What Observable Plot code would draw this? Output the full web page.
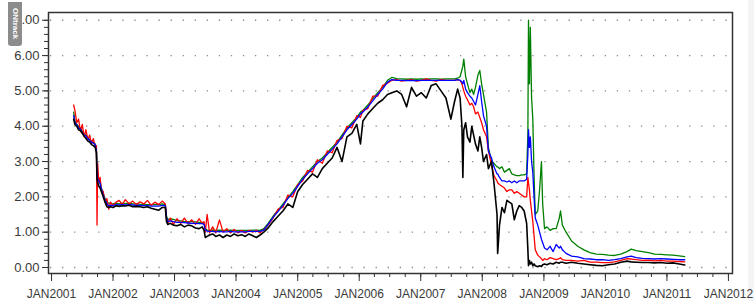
<!DOCTYPE html>
<html>
<head>
<meta charset="utf-8">
<script src="https://cdn.jsdelivr.net/npm/d3@7"></script>
<script src="https://cdn.jsdelivr.net/npm/@observablehq/plot@0.6"></script>
<style>
  html, body { margin: 0; padding: 0; background: #fff; }
  #wrap { position: relative; width: 754px; height: 301px; overflow: hidden; }
  #tab { position: absolute; left: 8px; top: 2px; width: 14px; height: 44px; background: #8c8c8c;
         border-radius: 0 0 3px 3px; color: #fff; font: bold 8px "Liberation Sans", Arial, sans-serif;
         writing-mode: vertical-rl; text-align: center; line-height: 14px; z-index: 2; }
  #strip { position: absolute; left: 748px; top: 0; width: 6px; height: 301px; background: #f4f4f4; }
  svg { font-family: "Liberation Sans", Arial, sans-serif; }
</style>
</head>
<body>
<div id="wrap"><div id="tab">ONtrack</div><div id="strip"></div></div>
<script>
// time in decimal years
const T = [
  2001.36,2001.38,2001.41,2001.44,2001.47,2001.50,2001.53,2001.56,2001.59,2001.62,2001.65,2001.68,2001.71,2001.73,2001.74,2001.75,2001.77,2001.79,2001.81,2001.84,2001.87,2001.90,2001.93,2001.96,2002.00,
  2002.05,2002.10,2002.15,2002.20,2002.26,2002.32,2002.38,2002.44,2002.50,2002.56,2002.62,2002.68,2002.74,2002.80,2002.85,2002.87,2002.89,
  2002.93,2002.98,2003.04,2003.10,2003.16,2003.22,2003.28,2003.34,2003.40,2003.45,2003.48,2003.50,2003.53,2003.57,
  2003.62,2003.67,2003.73,2003.79,2003.85,2003.91,2003.97,2004.03,2004.09,2004.15,2004.21,2004.27,2004.33,2004.39,2004.45,
  2004.52,2004.60,2004.68,2004.76,2004.84,2004.92,2005.00,2005.08,2005.16,2005.24,2005.32,2005.40,2005.48,2005.56,2005.64,2005.72,2005.80,2005.88,2005.96,2006.02,2006.06,2006.14,2006.22,2006.30,2006.38,2006.46,2006.53,
  2006.61,2006.69,2006.77,2006.85,2006.93,2007.01,2007.09,2007.17,2007.25,2007.33,2007.41,2007.49,2007.55,2007.60,
  2007.64,2007.67,2007.685,2007.70,2007.73,2007.76,2007.80,2007.83,2007.86,2007.89,2007.93,2007.96,2007.99,2008.02,2008.07,2008.10,2008.15,2008.19,2008.24,2008.25,2008.28,2008.32,2008.36,2008.40,2008.44,2008.48,2008.52,2008.56,2008.60,2008.64,2008.68,2008.72,
  2008.74,2008.75,2008.765,2008.78,2008.80,2008.82,2008.84,2008.86,2008.90,2008.93,2008.96,2008.98,2009.01,2009.05,2009.10,2009.15,2009.20,2009.25,2009.27,2009.30,2009.36,2009.45,2009.55,2009.65,2009.75,2009.85,2009.95,
  2010.05,2010.15,2010.25,2010.35,2010.42,2010.50,2010.60,2010.70,2010.80,2010.90,2011.00,2011.10,2011.20,2011.29
];
const green = [
  4.40,4.15,4.05,4.00,3.95,3.85,3.78,3.75,3.68,3.62,3.58,3.55,3.50,3.30,2.65,2.55,2.50,2.40,2.25,2.10,1.95,1.85,1.82,1.80,1.80,
  1.82,1.80,1.82,1.81,1.82,1.80,1.80,1.79,1.79,1.78,1.78,1.78,1.78,1.80,1.78,1.45,1.36,
  1.38,1.36,1.33,1.32,1.30,1.30,1.30,1.29,1.28,1.28,1.25,1.10,1.06,1.05,
  1.06,1.05,1.06,1.05,1.05,1.06,1.05,1.05,1.05,1.05,1.05,1.06,1.06,1.05,1.10,
  1.25,1.45,1.62,1.80,1.98,2.15,2.35,2.55,2.70,2.85,3.00,3.10,3.25,3.40,3.55,3.75,3.95,4.10,4.25,4.40,4.45,4.60,4.78,4.95,5.10,5.30,5.38,
  5.35,5.34,5.33,5.34,5.33,5.34,5.33,5.34,5.34,5.33,5.34,5.34,5.34,5.36,
  5.40,5.60,5.70,5.90,5.40,5.20,4.95,5.05,4.90,5.10,5.45,5.58,5.20,4.90,4.40,3.40,3.00,2.95,2.85,2.85,2.80,2.85,2.70,2.75,2.80,2.65,2.62,2.60,2.60,2.62,2.62,2.65,
  3.80,7.00,5.20,6.80,4.80,4.20,2.60,1.50,1.60,2.20,3.00,1.80,1.10,1.15,1.05,1.10,1.10,1.40,1.60,1.20,1.00,0.75,0.60,0.50,0.42,0.38,0.37,
  0.35,0.34,0.38,0.45,0.52,0.48,0.45,0.42,0.38,0.37,0.36,0.35,0.33,0.31
];
const blue = [
  4.30,4.10,4.05,3.95,3.92,3.82,3.75,3.72,3.65,3.60,3.55,3.52,3.48,3.30,2.60,2.50,2.45,2.38,2.22,2.05,1.90,1.80,1.75,1.76,1.75,
  1.78,1.77,1.78,1.77,1.78,1.77,1.76,1.76,1.75,1.75,1.74,1.74,1.74,1.76,1.75,1.40,1.30,
  1.32,1.30,1.28,1.28,1.27,1.26,1.25,1.25,1.24,1.24,1.22,1.06,1.03,1.02,
  1.02,1.01,1.02,1.01,1.01,1.02,1.01,1.01,1.01,1.01,1.02,1.02,1.02,1.02,1.06,
  1.22,1.42,1.58,1.76,1.95,2.10,2.30,2.50,2.65,2.80,2.95,3.05,3.20,3.35,3.50,3.70,3.90,4.05,4.20,4.35,4.40,4.55,4.72,4.90,5.05,5.25,5.32,
  5.30,5.30,5.29,5.30,5.29,5.30,5.30,5.30,5.30,5.30,5.30,5.30,5.30,5.32,
  5.30,5.25,5.20,5.30,5.05,4.95,4.85,4.80,4.70,4.60,4.90,5.15,4.70,4.30,4.00,3.30,3.10,2.85,2.65,2.65,2.55,2.45,2.45,2.42,2.45,2.40,2.45,2.40,2.45,2.45,2.45,2.50,
  3.20,3.90,3.40,3.70,3.00,2.70,2.00,1.40,1.20,1.00,0.80,0.70,0.55,0.50,0.60,0.45,0.65,0.55,0.60,0.50,0.40,0.32,0.30,0.25,0.24,0.22,0.22,
  0.20,0.22,0.25,0.30,0.32,0.28,0.26,0.25,0.24,0.25,0.24,0.23,0.22,0.22
];
const red = [
  4.60,4.45,4.10,4.20,3.85,4.05,3.70,3.90,3.62,3.75,3.50,3.65,3.40,3.45,1.20,2.95,2.40,2.55,2.20,2.15,1.85,1.95,1.65,1.85,1.75,
  1.85,1.90,1.78,1.92,1.80,1.88,1.78,1.86,1.80,1.90,1.76,1.85,1.78,1.88,1.80,1.35,1.25,
  1.40,1.22,1.38,1.25,1.40,1.25,1.35,1.22,1.38,1.25,1.30,1.00,1.50,0.98,
  1.15,0.98,1.35,1.00,1.10,0.98,1.08,0.98,1.05,0.98,1.05,1.00,1.05,0.98,1.08,
  1.20,1.40,1.65,1.70,2.05,2.00,2.35,2.45,2.75,2.70,3.05,2.95,3.30,3.25,3.60,3.65,4.00,3.95,4.30,4.25,4.45,4.50,4.85,4.85,5.15,5.22,5.30,
  5.32,5.28,5.30,5.32,5.28,5.30,5.34,5.30,5.28,5.32,5.30,5.30,5.30,5.32,
  5.30,5.20,5.10,5.00,4.85,4.75,4.60,4.65,4.55,4.35,4.40,4.25,4.10,3.90,3.70,3.30,2.90,2.60,2.45,2.40,2.35,2.30,2.25,2.15,2.20,2.20,2.10,2.15,2.10,2.05,2.00,2.00,
  2.55,2.40,2.20,1.90,1.60,1.30,0.90,0.50,0.35,0.30,0.25,0.20,0.25,0.22,0.28,0.25,0.22,0.25,0.28,0.22,0.20,0.20,0.18,0.20,0.15,0.15,0.14,
  0.14,0.16,0.20,0.25,0.24,0.22,0.20,0.21,0.19,0.20,0.18,0.18,0.17,0.16
];
const black = [
  4.20,4.05,4.00,3.90,3.88,3.80,3.72,3.65,3.58,3.55,3.48,3.45,3.40,3.25,2.50,2.40,2.30,2.25,2.15,2.00,1.85,1.72,1.70,1.72,1.70,
  1.75,1.73,1.75,1.74,1.76,1.72,1.73,1.72,1.70,1.72,1.68,1.65,1.62,1.70,1.70,1.30,1.22,
  1.25,1.20,1.18,1.22,1.15,1.20,1.18,1.12,1.10,1.15,1.05,0.85,0.88,0.92,
  0.95,0.88,0.92,0.85,0.92,0.88,0.95,0.90,0.93,0.88,0.95,0.90,0.85,0.92,1.00,
  1.12,1.30,1.45,1.60,1.80,1.70,2.15,2.35,2.50,2.65,2.55,2.80,2.95,3.10,3.40,3.00,3.70,3.80,4.05,3.50,4.15,4.35,4.50,4.65,4.75,4.90,4.95,
  5.00,4.90,4.55,5.10,4.85,4.95,4.80,5.15,5.20,5.00,4.80,4.20,4.70,5.05,
  4.80,4.00,2.55,3.90,4.10,3.70,3.55,4.00,3.75,3.50,3.30,3.70,3.40,3.00,3.20,2.80,3.00,2.40,1.50,0.40,1.20,1.70,1.55,1.90,1.85,1.80,1.35,1.60,1.75,1.70,1.60,1.25,
  0.50,0.05,0.20,0.10,0.15,0.05,0.10,0.05,0.02,0.05,0.03,0.08,0.10,0.08,0.12,0.10,0.15,0.12,0.15,0.15,0.12,0.15,0.12,0.10,0.08,0.06,0.05,
  0.08,0.10,0.15,0.18,0.16,0.15,0.14,0.14,0.13,0.14,0.12,0.13,0.10,0.07
];
const seriesNames = ["green", "red", "blue", "black"];
const seriesColors = ["#008000", "#ff0000", "#0000ff", "#000000"];
const yTicks = [0, 1, 2, 3, 4, 5, 6, 7];
const xTicks = ["2001-01-01","2002-01-01","2003-01-01","2004-01-01","2005-01-01","2006-01-01","2007-01-01","2008-01-01","2009-01-01","2010-01-01","2011-01-01","2012-01-01"];

const toDate = t => { const y = Math.floor(t); const s = Date.UTC(y,0,1), e = Date.UTC(y+1,0,1); return new Date(s + (t - y) * (e - s)); };
const valuesBy = {green, red, blue, black};
const rows = seriesNames.flatMap(name => T.map((t, i) => ({series: name, date: toDate(t), value: valuesBy[name][i]})));

const majorX = xTicks.map(s => new Date(s + "T00:00:00Z"));
const minorX = d3.utcMonth.every(3).range(new Date("2001-01-01T00:00:00Z"), new Date("2012-01-02T00:00:00Z"));
const minorY = d3.range(0, 36).map(i => i * 0.2);
const fmtX = d => d3.utcFormat("%b%Y")(d).toUpperCase();

const chart = Plot.plot({
  width: 754, height: 301,
  marginLeft: 48, marginRight: 22, marginTop: 12, marginBottom: 28,
  style: {fontFamily: '"Liberation Sans", Arial, sans-serif', color: "#333", background: "transparent"},
  x: {type: "utc", domain: [toDate(2000.951), toDate(2012.066)]},
  y: {domain: [-0.17, 7.22]},
  marks: [
    Plot.gridY(yTicks, {stroke: "#8a8a8a", strokeOpacity: 1, strokeWidth: 1.3, strokeDasharray: "1.3,10.76", strokeDashoffset: 10.12}),
    Plot.axisY(minorY, {tickSize: 4, tickFormat: () => "", label: null, stroke: "#333"}),
    Plot.axisY(yTicks, {tickSize: 6, tickPadding: 3, tickFormat: d => d.toFixed(2), fontSize: 13, label: null, stroke: "#333", fill: "#3a3a3a"}),
    Plot.axisX(minorX, {tickSize: 4, tickFormat: () => "", label: null, stroke: "#333"}),
    Plot.axisX(majorX, {tickSize: 8, tickPadding: 8, tickFormat: fmtX, fontSize: 12, label: null, stroke: "#333", fill: "#3a3a3a"}),
    ...seriesNames.map((name, k) => Plot.line(rows.filter(r => r.series === name), {
      x: "date", y: "value", stroke: seriesColors[k], strokeWidth: name === "black" ? 1.6 : 1.3
    })),
    Plot.frame({stroke: "#333", strokeWidth: 1.5})
  ]
});
document.getElementById("wrap").appendChild(chart);
chart.style.position = "absolute";
chart.style.left = "0px";
chart.style.top = "0px";
</script>
</body>
</html>
